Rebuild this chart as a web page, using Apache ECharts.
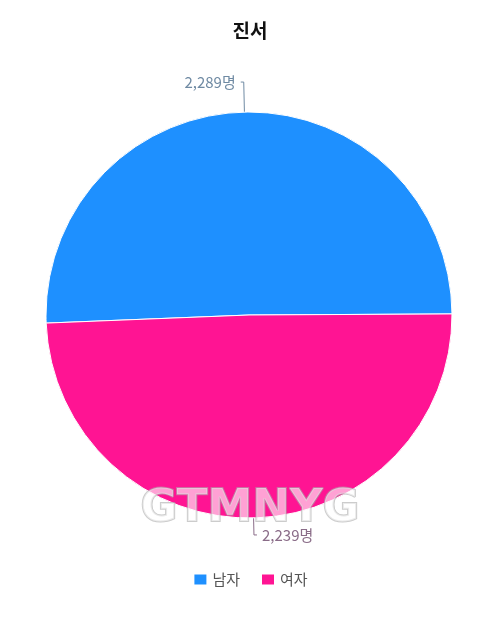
<!DOCTYPE html>
<html lang="ko">
<head>
    <meta charset="UTF-8">
    <title>진서</title>
    <style>
        html,body{margin:0;padding:0;background:#fff;}
        #main{width:500px;height:624px;}
    </style>
</head>
<body>
<div id="main"></div>
<script src="https://cdn.jsdelivr.net/npm/echarts@6/dist/echarts.min.js"></script>
<script>
// 데이터
const categories = ['남자', '여자'];
const values = [2289, 2239];
const colors = ['#1e90ff', '#ff1493'];
const labelColors = ['#6f8aa3', '#8a6c88'];
const lineLengths = [30, 17];

const chart = echarts.init(document.getElementById('main'));

const option = {
    textStyle: {fontFamily: '"Noto Sans CJK KR", "Noto Sans", sans-serif'},
    title: {
        text: '진서',
        left: 'center',
        top: 16,
        textStyle: {fontSize: 19, fontWeight: 'bold', color: '#111'}
    },
    legend: {
        bottom: 32,
        left: 'center',
        itemWidth: 14,
        itemHeight: 12,
        itemGap: 20,
        icon: 'rect',
        textStyle: {fontSize: 15, color: '#555'},
        data: categories
    },
    series: [{
        type: 'pie',
        center: [249, 315],
        radius: 203,
        startAngle: 0.3,
        clockwise: false,
        avoidLabelOverlap: false,
        itemStyle: {borderColor: '#fff', borderWidth: 1},
        label: {
            fontSize: 15,
            formatter: p => p.value.toLocaleString('en-US') + '명'
        },
        labelLine: {length2: 3, lineStyle: {width: 1}},
        data: categories.map((c, i) => ({
            name: c,
            value: values[i],
            itemStyle: {color: colors[i]},
            label: {color: labelColors[i]},
            labelLine: {length: lineLengths[i], lineStyle: {color: labelColors[i]}}
        }))
    }],
    // 워터마크
    graphic: [{
        type: 'text',
        left: 'center',
        top: 486,
        z: 100,
        style: {
            text: 'GTMNYG',
            font: 'bold 45px "DejaVu Sans", sans-serif',
            fill: 'rgba(255,255,255,0.6)',
            stroke: 'rgba(170,170,170,0.6)',
            lineWidth: 2
        }
    }]
};

chart.setOption(option);
</script>
</body>
</html>
